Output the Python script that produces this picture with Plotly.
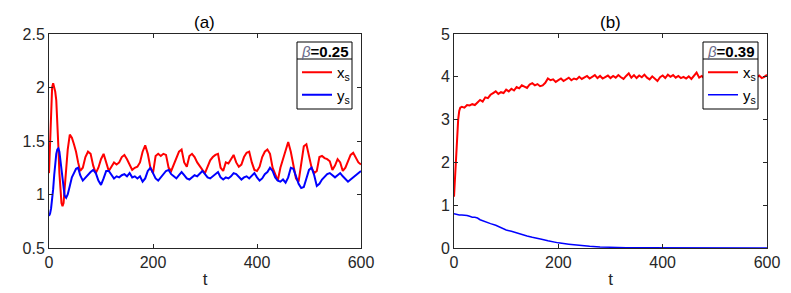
import plotly.graph_objects as go

# ---------------- data ----------------
t_a = [0, 2, 4, 6, 8, 10, 12, 14, 16, 18, 20, 22, 24, 26, 28, 30, 33, 36, 40, 44, 48, 52, 56, 60,
       65, 70, 75, 80, 85, 90, 95, 100, 105, 110, 115, 120, 125, 130, 135, 140, 145, 150, 155, 160,
       165, 170, 175, 180, 185, 190, 195, 200, 205, 210, 215, 220, 225, 230, 235, 240, 245, 250,
       255, 260, 265, 270, 275, 280, 285, 290, 295, 300, 305, 310, 315, 320, 325, 330, 335, 340,
       345, 350, 355, 360, 365, 370, 375, 380, 385, 390, 395, 400, 405, 410, 415, 420, 425, 430,
       435, 440, 445, 450, 455, 460, 465, 470, 475, 480, 485, 490, 495, 500, 505, 510, 515, 520,
       525, 530, 535, 540, 545, 550, 555, 560, 565, 570, 575, 580, 585, 590, 595, 600]

xs_a = [1.20, 1.55, 1.85, 2.00, 2.04, 2.00, 1.96, 1.88, 1.70, 1.45, 1.20, 1.02, 0.92, 0.89, 0.92,
        1.05, 1.25, 1.42, 1.56, 1.53, 1.47, 1.40, 1.30, 1.22,
        1.25, 1.35, 1.40, 1.38, 1.27, 1.20, 1.25, 1.33, 1.38, 1.30, 1.22, 1.26, 1.30, 1.28, 1.30,
        1.35, 1.37, 1.33, 1.28, 1.23, 1.25, 1.26, 1.30, 1.40, 1.46, 1.38, 1.25, 1.20, 1.36, 1.38,
        1.36, 1.38, 1.37, 1.25, 1.22, 1.28, 1.35, 1.40, 1.42, 1.30, 1.26, 1.36, 1.38, 1.35, 1.30,
        1.26, 1.23, 1.20, 1.26, 1.32, 1.35, 1.37, 1.38, 1.25, 1.22, 1.30, 1.29, 1.33, 1.37, 1.30,
        1.26, 1.28, 1.35, 1.39, 1.40, 1.30, 1.23, 1.22, 1.26, 1.35, 1.40, 1.42, 1.38, 1.25, 1.18,
        1.13, 1.25, 1.33, 1.42, 1.49, 1.40, 1.28, 1.15, 1.12, 1.30, 1.45, 1.47, 1.35, 1.25, 1.20,
        1.22, 1.35, 1.36, 1.34, 1.33, 1.31, 1.23, 1.27, 1.33, 1.30, 1.22, 1.25, 1.32, 1.37, 1.39,
        1.35, 1.30, 1.28]

ys_a = [0.80, 0.82, 0.87, 0.95, 1.05, 1.18, 1.30, 1.38, 1.42, 1.43, 1.40, 1.32, 1.22, 1.12, 1.04,
        0.99, 0.97, 1.00, 1.08, 1.16, 1.20, 1.24, 1.25, 1.18,
        1.13, 1.16, 1.19, 1.21, 1.23, 1.20, 1.13, 1.09, 1.15, 1.22, 1.22, 1.18, 1.15, 1.17, 1.16,
        1.18, 1.19, 1.17, 1.20, 1.16, 1.17, 1.15, 1.17, 1.12, 1.15, 1.22, 1.25, 1.20, 1.15, 1.13,
        1.16, 1.18, 1.22, 1.23, 1.19, 1.17, 1.15, 1.18, 1.21, 1.18, 1.15, 1.14, 1.16, 1.18, 1.17,
        1.20, 1.22, 1.19, 1.16, 1.15, 1.17, 1.19, 1.21, 1.16, 1.14, 1.16, 1.15, 1.17, 1.20, 1.19,
        1.16, 1.14, 1.16, 1.17, 1.15, 1.18, 1.20, 1.16, 1.13, 1.15, 1.19, 1.21, 1.25, 1.22, 1.16,
        1.13, 1.12, 1.14, 1.11, 1.16, 1.25, 1.24, 1.16, 1.10, 1.06, 1.07, 1.15, 1.23, 1.25, 1.18,
        1.08, 1.10, 1.14, 1.17, 1.19, 1.20, 1.18, 1.16, 1.18, 1.20, 1.17, 1.14, 1.12, 1.14, 1.16,
        1.18, 1.20, 1.22]

t_bx = [0, 2, 4, 6, 8, 10, 12, 15, 20, 25, 30, 35, 40, 45, 50, 55, 60, 65, 70, 75, 80, 85, 90, 95,
        100, 105, 110, 115, 120, 125, 130, 135, 140, 145, 150, 155, 160, 165, 170, 175, 180, 185,
        190, 195, 200, 205, 210, 215, 220, 225, 230, 235, 240, 245, 250, 255, 260, 265, 270, 275,
        280, 285, 290, 295, 300, 305, 310, 315, 320, 325, 330, 335, 340, 345, 350, 355, 360, 365,
        370, 375, 380, 385, 390, 395, 400, 405, 410, 415, 420, 425, 430, 435, 440, 445, 450, 455,
        460, 465, 470, 475, 480, 485, 490, 495, 500, 505, 510, 515, 520, 525, 530, 535, 540, 545,
        550, 555, 560, 565, 570, 575, 580, 585, 590, 595, 600]

xs_b = [1.20, 1.70, 2.25, 2.70, 3.00, 3.20, 3.28, 3.30, 3.28, 3.34, 3.33, 3.36, 3.34, 3.40, 3.46,
        3.42, 3.52, 3.50, 3.58, 3.62, 3.66, 3.60, 3.64, 3.62, 3.70, 3.66, 3.72, 3.68, 3.76, 3.73,
        3.80, 3.77, 3.74, 3.82, 3.85, 3.80, 3.83, 3.78, 3.80, 3.86, 3.96, 3.92, 3.94, 3.88, 3.92,
        3.96, 3.90, 3.95, 3.98, 3.92, 3.96, 3.94, 4.00, 3.95, 3.98, 4.02, 3.96, 4.00, 4.04, 3.97,
        4.02, 3.96, 4.00, 4.03, 3.97, 4.02, 3.98, 4.04, 3.99, 3.95, 4.02, 4.08, 3.98, 4.04, 3.97,
        4.03, 3.99, 4.05, 3.98, 3.94, 4.01, 3.96, 3.90, 3.99, 4.03, 3.97, 4.05, 4.00, 4.04, 3.98,
        4.02, 3.97, 4.00, 3.96, 4.01, 3.95, 4.03, 4.10, 3.98, 4.02, 3.96, 4.00, 3.97, 4.03, 3.99,
        4.04, 3.97, 4.02, 3.98, 4.03, 3.96, 4.01, 4.04, 3.98, 4.02, 3.97, 4.03, 3.99, 3.96, 4.02,
        3.98, 4.03, 3.97, 4.00, 4.05]

t_by = [0, 5, 10, 15, 20, 25, 30, 35, 40, 45, 50, 60, 70, 80, 90, 100, 110, 120, 130, 140, 150,
        160, 170, 180, 190, 200, 220, 240, 260, 280, 300, 330, 360, 400, 450, 500, 600]

ys_b = [0.80, 0.78, 0.77, 0.77, 0.77, 0.76, 0.74, 0.72, 0.72, 0.70, 0.66, 0.61, 0.57, 0.53, 0.48,
        0.42, 0.39, 0.35, 0.31, 0.28, 0.25, 0.23, 0.20, 0.17, 0.14, 0.12, 0.09, 0.06, 0.04, 0.025,
        0.015, 0.007, 0.003, 0.001, 0.0, 0.0, 0.0]

x_ticks = [0, 200, 400, 600]
y_ticks_a = [0.5, 1, 1.5, 2, 2.5]
y_ticks_b = [0, 1, 2, 3, 4, 5]
titles = ["(a)", "(b)"]
beta_labels = ["0.25", "0.39"]

# ---------------- figure ----------------
OFF = 8  # page body margin of the default html
W, H = 791 - OFF, 293 - OFF
FONT = "Liberation Sans, Arial, sans-serif"
AXC = "#262626"
RED = "#FF0000"
BLUE = "#0000FF"

fig = go.Figure()
fig.add_trace(go.Scatter(x=t_a, y=xs_a, mode="lines", line=dict(color=RED, width=2),
                         name="x<sub>s</sub>", xaxis="x", yaxis="y", legend="legend"))
fig.add_trace(go.Scatter(x=t_a, y=ys_a, mode="lines", line=dict(color=BLUE, width=2),
                         name="y<sub>s</sub>", xaxis="x", yaxis="y", legend="legend"))
fig.add_trace(go.Scatter(x=t_bx, y=xs_b, mode="lines", line=dict(color=RED, width=2),
                         name="x<sub>s</sub>", xaxis="x2", yaxis="y2", legend="legend2"))
fig.add_trace(go.Scatter(x=t_by, y=ys_b, mode="lines", line=dict(color=BLUE, width=1.5),
                         name="y<sub>s</sub>", xaxis="x2", yaxis="y2", legend="legend2"))


def px_x(p):
    return (p - OFF) / W


def px_y(p):
    return 1 - (p - OFF) / H


ydom = [px_y(248), px_y(34)]
common_axis = dict(showline=True, linecolor=AXC, linewidth=1, mirror="ticks", ticks="inside",
                   ticklen=4, tickcolor=AXC, showgrid=False, zeroline=False,
                   tickfont=dict(family=FONT, size=16, color=AXC), automargin=False)
xtitle = dict(text="t", font=dict(family=FONT, size=17, color=AXC), standoff=2)

fig.update_layout(
    width=W, height=H, margin=dict(l=0, r=0, t=0, b=0),
    paper_bgcolor="white", plot_bgcolor="white", hovermode=False,
    xaxis=dict(domain=[px_x(49), px_x(361)], range=[0, 600], tickvals=x_ticks, anchor="y",
               title=xtitle, **common_axis),
    yaxis=dict(domain=ydom, range=[0.5, 2.5], tickvals=y_ticks_a, anchor="x", **common_axis),
    xaxis2=dict(domain=[px_x(454), px_x(767)], range=[0, 600], tickvals=x_ticks, anchor="y2",
                title=xtitle, **common_axis),
    yaxis2=dict(domain=ydom, range=[0, 5], tickvals=y_ticks_b, anchor="x2", **common_axis),
)

# legend boxes (frame + title row) and legends
LEG_TOP, LEG_SEP, LEG_BOT = 42, 59, 109
for idx, (key, xl, xr) in enumerate((("legend", 297, 352), ("legend2", 703, 758))):
    fig.add_shape(type="rect", xref="paper", yref="paper", layer="above",
                  x0=px_x(xl), x1=px_x(xr), y0=px_y(LEG_BOT), y1=px_y(LEG_TOP),
                  fillcolor="white", line=dict(color="#000000", width=1))
    fig.add_shape(type="line", xref="paper", yref="paper", layer="above",
                  x0=px_x(xl), x1=px_x(xr), y0=px_y(LEG_SEP), y1=px_y(LEG_SEP),
                  line=dict(color="#000000", width=1))
    fig.add_annotation(text="<span style='color:#6a6a8a'><i>β</i></span><b>=" + beta_labels[idx] + "</b>",
                       xref="paper", yref="paper", x=px_x((xl + xr) / 2), y=px_y((LEG_TOP + LEG_SEP) / 2 + 0.5),
                       showarrow=False, xanchor="center", yanchor="middle",
                       font=dict(family=FONT, size=15, color="#000000"))
    fig.update_layout({key: dict(
        x=px_x(xl), xanchor="left", y=px_y(LEG_SEP - 3), yanchor="top",
        bgcolor="rgba(0,0,0,0)", borderwidth=0,
        font=dict(family=FONT, size=15, color="#000000"),
        tracegroupgap=0, itemwidth=30,
    )})

# panel titles
for i, xc in enumerate([(49 + 361) / 2, (454 + 767) / 2]):
    fig.add_annotation(text=titles[i], xref="paper", yref="paper", x=px_x(xc), y=px_y(23),
                       showarrow=False, font=dict(family=FONT, size=17, color="#000000"),
                       xanchor="center", yanchor="middle")

fig.write_html("out.html")
